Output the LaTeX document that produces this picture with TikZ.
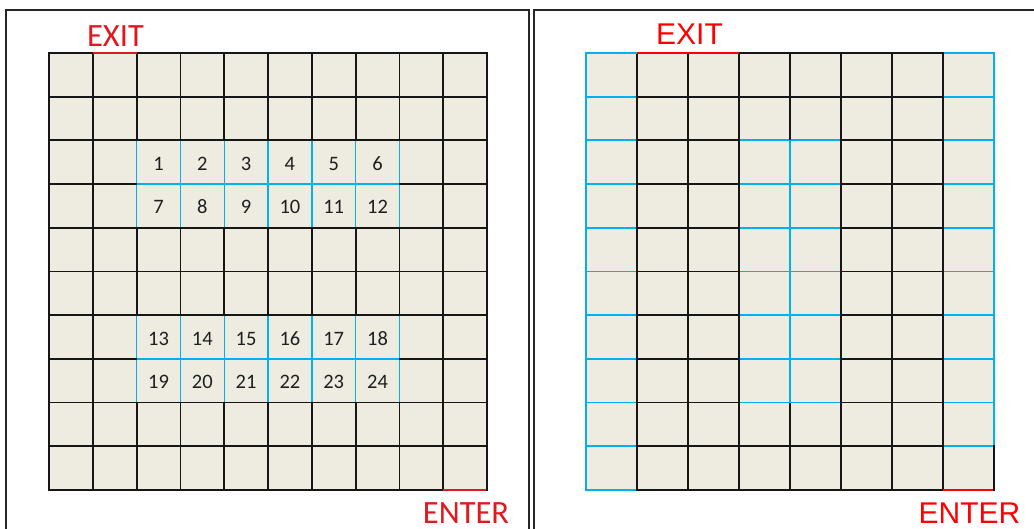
\documentclass[tikz,border=0pt]{standalone}
\usepackage{fontspec}
\newfontfamily\cali{Carlito}
\newfontfamily\arialf{Liberation Sans}
\definecolor{cellfill}{HTML}{EEECE1}
\definecolor{xlblue}{HTML}{00B0F0}
\definecolor{redL}{RGB}{225,25,30}
\definecolor{redR}{RGB}{255,0,0}
\definecolor{gridblack}{RGB}{22,22,22}
\tikzset{
  gline/.style={draw=gridblack,line width=1.8pt},
  bline/.style={draw=xlblue,line width=1.4pt},
  bline2/.style={draw=xlblue,line width=1.8pt},
  outerb/.style={draw=gridblack,line width=2.6pt,line cap=rect},
  outerblue/.style={draw=xlblue,line width=2.6pt,line cap=rect},
  outerred/.style={line width=2.6pt},
  num/.style={inner sep=0pt,anchor=base,font=\cali\fontsize{20.5}{21}\selectfont,text=black!88},
  labL/.style={inner sep=0pt,anchor=base,font=\cali\fontsize{32.5}{34}\selectfont,text=redL},
  labR/.style={inner sep=0pt,anchor=base,font=\arialf\fontsize{30}{32}\selectfont,text=redR},
  panelframe/.style={draw=black!85,line width=1.4pt},
}
\begin{document}
\begin{tikzpicture}[x=1pt,y=-1pt]
\useasboundingbox (0,0) rectangle (1034,529);
% panel frames
\draw[panelframe] (6,535) -- (6,10) -- (529,10) -- (529,535);
\draw[panelframe] (1040,10) -- (534,10) -- (534,535);

% ================= LEFT GRID =================
\fill[cellfill] (49,53) rectangle (487,490);
% blue verticals
\foreach \i in {2,...,8}{
  \draw[bline] ({49+\i*43.8},{53+2*43.7}) -- ({49+\i*43.8},{53+4*43.7});
  \draw[bline] ({49+\i*43.8},{53+6*43.7}) -- ({49+\i*43.8},{53+8*43.7});
}
% blue horizontals
\foreach \j in {3,7}{
  \draw[bline] ({49+2*43.8},{53+\j*43.7}) -- ({49+8*43.8},{53+\j*43.7});
}
% black verticals
\foreach \i in {1,9} \draw[gline] ({49+\i*43.8},53) -- ({49+\i*43.8},490);
\foreach \i in {2,...,8}{
  \draw[gline] ({49+\i*43.8},53) -- ({49+\i*43.8},{53+2*43.7});
  \draw[gline] ({49+\i*43.8},{53+4*43.7}) -- ({49+\i*43.8},{53+6*43.7});
  \draw[gline] ({49+\i*43.8},{53+8*43.7}) -- ({49+\i*43.8},490);
}
% black horizontals
\foreach \j in {1,2,4,5,6,8,9} \draw[gline] (49,{53+\j*43.7}) -- (487,{53+\j*43.7});
\foreach \j in {3,7}{
  \draw[gline] (49,{53+\j*43.7}) -- ({49+2*43.8},{53+\j*43.7});
  \draw[gline] ({49+8*43.8},{53+\j*43.7}) -- (487,{53+\j*43.7});
}
% outer border
\draw[outerb] (49,53) -- (487,53) -- (487,490) -- (49,490) -- cycle;
\draw[outerred,draw=redL] ({49+43.8},53) -- ({49+2*43.8},53);
\draw[outerred,draw=redL] ({49+9*43.8},490) -- (486,490);
% numbers
\foreach \r/\s in {2/0,3/6,6/12,7/18}{
  \foreach \c in {0,...,5}{
    \pgfmathtruncatemacro\n{\s+\c+1}
    \node[num] (n\n) at ({49+(\c+2.5)*43.8},{53+(\r+0.5)*43.7+8}) {\n};
  }
}
\node[labL] (exitL) at (115.5,47) {EXIT};
\node[labL] (enterL) at (466,523) {ENTER};

% ================= RIGHT GRID =================
\fill[cellfill] (586,53) rectangle (994,490);
% blue interior
\foreach \j in {1,...,9}{
  \draw[bline2] (586,{53+\j*43.7}) -- (637,{53+\j*43.7});
  \draw[bline2] (943,{53+\j*43.7}) -- (994,{53+\j*43.7});
}
\foreach \j in {2,...,8}{
  \draw[bline2] (739,{53+\j*43.7}) -- (841,{53+\j*43.7});
}
\draw[bline2] (790,{53+2*43.7}) -- (790,{53+8*43.7});
% black interior
\foreach \i in {1,2,3,5,6,7} \draw[gline] ({586+\i*51},53) -- ({586+\i*51},490);
\draw[gline] (790,53) -- (790,{53+2*43.7});
\draw[gline] (790,{53+8*43.7}) -- (790,490);
\foreach \j in {1,...,9}{
  \draw[gline] (637,{53+\j*43.7}) -- (739,{53+\j*43.7});
  \draw[gline] (841,{53+\j*43.7}) -- (943,{53+\j*43.7});
}
\foreach \j in {1,9} \draw[gline] (739,{53+\j*43.7}) -- (841,{53+\j*43.7});
% outer border
\draw[outerblue] (586,53) -- (586,490);
\draw[outerblue] (586,53) -- (637,53);
\draw[outerblue] (943,53) -- (994,53);
\draw[outerblue] (994,53) -- (994,{53+9*43.7});
\draw[outerblue] (586,490) -- (637,490);
\draw[outerb] (739,53) -- (943,53);
\draw[outerb] (994,{53+9*43.7}) -- (994,490);
\draw[outerb] (637,490) -- (943,490);
\draw[outerred,draw=redR] (637,53) -- (739,53);
\draw[outerred,draw=redR] (943,490) -- (993,490);
\node[labR] (exitR) at (689.5,45) {EXIT};
\node[labR] (enterR) at (969.5,523) {ENTER};
\end{tikzpicture}
\end{document}
